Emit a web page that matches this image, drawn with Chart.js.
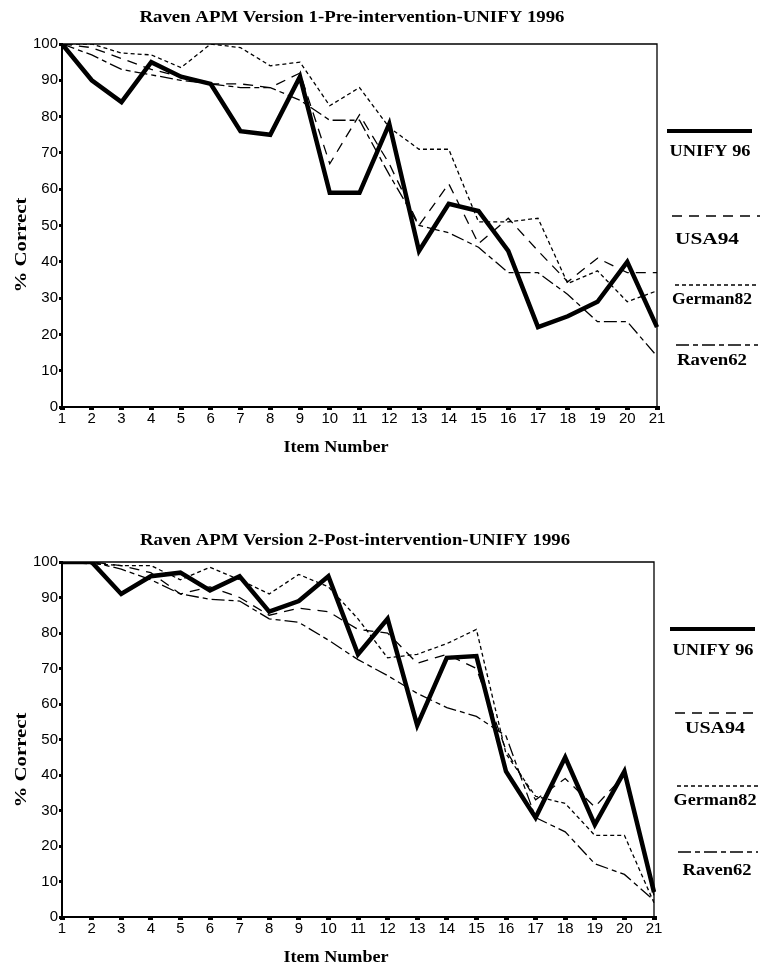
<!DOCTYPE html>
<html>
<head>
<meta charset="utf-8">
<script src="https://cdn.jsdelivr.net/npm/chart.js@4/dist/chart.umd.min.js"></script>
<style>
  html, body { margin: 0; padding: 0; background: #fff; }
  .wrap { position: relative; width: 760px; height: 975px; }
  canvas { position: absolute; left: 0; top: 0; }
</style>
</head>
<body>
<div class="wrap">
  <canvas id="preChart" width="760" height="975"></canvas>
  <canvas id="postChart" width="760" height="975"></canvas>
</div>
<script>
const itemLabels = ["1", "2", "3", "4", "5", "6", "7", "8", "9", "10", "11",
  "12", "13", "14", "15", "16", "17", "18", "19", "20", "21"];
const seriesNames = ["UNIFY 96", "USA94", "German82", "Raven62"];

// Version 1, pre-intervention
const preUnify96 = [100, 90, 84, 95, 91, 89, 76, 75, 91, 59, 59, 78, 43, 56, 54, 43, 22, 25, 29, 40, 22];
const preUsa94 = [100, 99, 96, 93, 91, 89, 89, 88, 92, 67, 80.5, 67, 50, 61.5, 45, 52, 43, 34.5, 41, 37, 37];
const preGerman82 = [100, 100, 97.5, 97, 93.5, 100, 99, 94, 95, 83, 88, 77, 71, 71, 51, 51, 52, 34, 37.5, 29, 32];
const preRaven62 = [100, 97, 93, 91.5, 90, 89, 88, 88, 84.5, 79, 79, 64, 50, 48, 44, 37, 37, 31, 23.5, 23.5, 14];

// Version 2, post-intervention
const postUnify96 = [100, 100, 91, 96, 97, 92, 96, 86, 89, 96, 74, 84, 54, 73, 73.5, 41, 28, 45, 26, 41, 7];
const postUsa94 = [100, 100, 99, 97, 91, 93, 90, 85, 87, 86, 81, 80, 71.5, 74, 70, 47, 33, 39, 31, 40, 6];
const postGerman82 = [100, 99.5, 99, 99, 95, 98.5, 95, 91, 96.5, 93, 84, 73, 74, 77, 81, 46, 34, 32, 23, 23, 4];
const postRaven62 = [100, 100, 98, 95, 91, 89.5, 89, 84, 83, 78, 72.5, 68, 63, 59, 56.5, 51, 28, 24, 15, 12, 4.7];

const lineStyles = [
  { width: 4.5, dash: [] },
  { width: 1.3, dash: [10, 7] },
  { width: 1.3, dash: [4, 3] },
  { width: 1.3, dash: [13, 4, 5, 4] },
];

function drawFitted(ctx, text, x, baseline, size, width, rotate) {
  ctx.save();
  ctx.font = `bold ${size}px "Liberation Serif", "Times New Roman", serif`;
  ctx.textAlign = "center";
  ctx.textBaseline = "alphabetic";
  ctx.fillStyle = "#000";
  ctx.translate(x, baseline);
  if (rotate) ctx.rotate(-Math.PI / 2);
  const w = ctx.measureText(text).width;
  ctx.scale(width / w, 1);
  ctx.fillText(text, 0, 0);
  ctx.restore();
}

const decorPlugin = {
  id: "decor",
  afterDraw(chart, args, opts) {
    const ctx = chart.ctx;
    const a = chart.chartArea;
    // box around the plot
    ctx.save();
    ctx.strokeStyle = "#000";
    ctx.lineWidth = 1.3;
    ctx.beginPath();
    ctx.moveTo(a.left, a.top);
    ctx.lineTo(a.right, a.top);
    ctx.lineTo(a.right, a.bottom);
    ctx.stroke();
    ctx.restore();

    drawFitted(ctx, opts.title, opts.titleX, opts.titleY, 16, opts.titleW);
    drawFitted(ctx, "Item Number", opts.xTitleX, opts.xTitleY, 16, 105);
    ctx.save();
    ctx.translate(opts.yTitleX, opts.yTitleY);
    drawFitted(ctx, "% Correct", 0, 0, 16, 95, true);
    ctx.restore();

    // legend: line sample with name below
    opts.legend.forEach((row, i) => {
      ctx.save();
      ctx.strokeStyle = "#000";
      ctx.lineWidth = i === 0 ? 4 : 1.5;
      ctx.setLineDash(lineStyles[i].dash);
      ctx.beginPath();
      ctx.moveTo(row.x1, row.lineY);
      ctx.lineTo(row.x2, row.lineY);
      ctx.stroke();
      ctx.restore();
      drawFitted(ctx, seriesNames[i], row.textX, row.textY, 16, row.textW);
    });
  },
};

function makeChart(id, values, frame, decor) {
  const datasets = values.map((data, i) => ({
    label: seriesNames[i],
    data,
    borderColor: "#000",
    borderWidth: lineStyles[i].width,
    borderDash: lineStyles[i].dash,
    borderJoinStyle: "miter",
    borderCapStyle: "butt",
    tension: 0,
    pointRadius: 0,
    fill: false,
  }));

  new Chart(document.getElementById(id), {
    type: "line",
    data: { labels: itemLabels, datasets },
    options: {
      responsive: false,
      animation: false,
      events: [],
      layout: {
        padding: {
          top: frame.top,
          left: 0,
          right: 760 - frame.right,
          bottom: 975 - frame.bottom - 30,
        },
      },
      plugins: {
        legend: { display: false },
        tooltip: { enabled: false },
        decor,
      },
      scales: {
        x: {
          afterFit: (s) => { s.height = 30; },
          border: { color: "#000", width: 2 },
          grid: { drawOnChartArea: false, color: "#000", tickLength: 3, lineWidth: 5 },
          ticks: {
            color: "#000",
            font: { family: '"Liberation Sans", Arial, sans-serif', size: 15 },
            maxRotation: 0,
            autoSkip: false,
            padding: 0,
          },
        },
        y: {
          min: 0,
          max: 100,
          afterFit: (s) => { s.width = 62; },
          border: { color: "#000", width: 2 },
          grid: { drawOnChartArea: false, color: "#000", tickLength: 3, lineWidth: 3 },
          ticks: {
            stepSize: 10,
            color: "#000",
            font: { family: '"Liberation Sans", Arial, sans-serif', size: 15 },
            padding: 1,
          },
        },
      },
    },
    plugins: [decorPlugin],
  });
}

makeChart("preChart", [preUnify96, preUsa94, preGerman82, preRaven62],
  { top: 44, bottom: 407, right: 657 },
  {
    title: "Raven APM Version 1-Pre-intervention-UNIFY 1996",
    titleX: 352, titleY: 22, titleW: 425,
    xTitleX: 336, xTitleY: 452,
    yTitleX: 26, yTitleY: 245,
    legend: [
      { x1: 667, x2: 752, lineY: 131, textX: 710, textY: 156, textW: 81 },
      { x1: 672, x2: 760, lineY: 216, textX: 707, textY: 244, textW: 64 },
      { x1: 675, x2: 757, lineY: 285, textX: 712, textY: 304, textW: 80 },
      { x1: 676, x2: 758, lineY: 345, textX: 712, textY: 365, textW: 70 },
    ],
  });

makeChart("postChart", [postUnify96, postUsa94, postGerman82, postRaven62],
  { top: 562, bottom: 917, right: 654 },
  {
    title: "Raven APM Version 2-Post-intervention-UNIFY 1996",
    titleX: 355, titleY: 545, titleW: 430,
    xTitleX: 336, xTitleY: 962,
    yTitleX: 26, yTitleY: 760,
    legend: [
      { x1: 670, x2: 755, lineY: 629, textX: 713, textY: 655, textW: 81 },
      { x1: 675, x2: 760, lineY: 713, textX: 715, textY: 733, textW: 60 },
      { x1: 677, x2: 758, lineY: 786, textX: 715, textY: 805, textW: 83 },
      { x1: 678, x2: 758, lineY: 852, textX: 717, textY: 875, textW: 69 },
    ],
  });
</script>
</body>
</html>
